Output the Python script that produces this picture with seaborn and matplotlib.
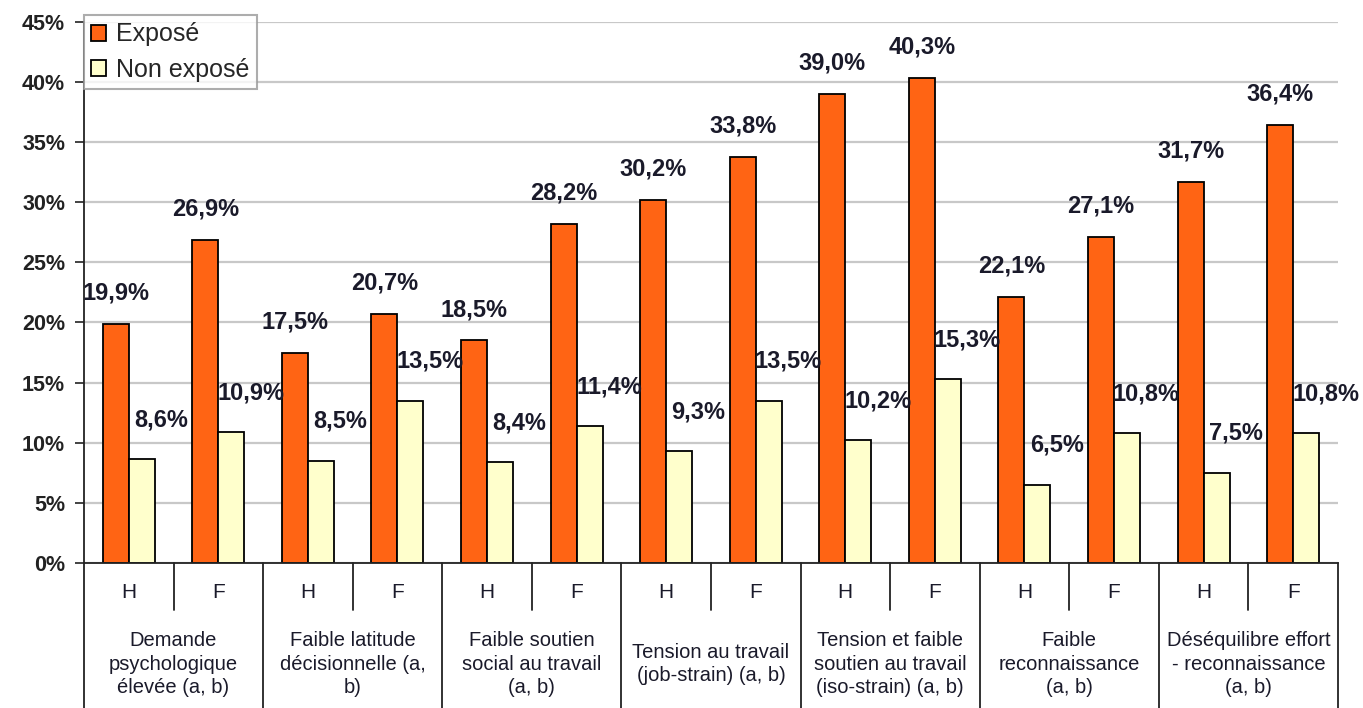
import numpy as np
import pandas as pd
import matplotlib
matplotlib.use('Agg')
import matplotlib.pyplot as plt
import matplotlib.transforms as mtransforms
import seaborn as sns

# data
categories = ['Demande\npsychologique\nélevée (a, b)',
              'Faible latitude\ndécisionnelle (a,\nb)',
              'Faible soutien\nsocial au travail\n(a, b)',
              'Tension au travail\n(job-strain) (a, b)',
              'Tension et faible\nsoutien au travail\n(iso-strain) (a, b)',
              'Faible\nreconnaissance\n(a, b)',
              'Déséquilibre effort\n- reconnaissance\n(a, b)']
sexes = ['H', 'F']
expose = [19.9, 26.9, 17.5, 20.7, 18.5, 28.2, 30.2, 33.8, 39.0, 40.3, 22.1, 27.1, 31.7, 36.4]
non_expose = [8.6, 10.9, 8.5, 13.5, 8.4, 11.4, 9.3, 13.5, 10.2, 15.3, 6.5, 10.8, 7.5, 10.8]
series = ['Exposé', 'Non exposé']
colors = ['#FF6414', '#FFFFCC']

slots = [f'{i}{s}' for i in range(len(categories)) for s in sexes]
df = pd.DataFrame({
    'slot': slots * 2,
    'valeur': expose + non_expose,
    'statut': [series[0]] * len(slots) + [series[1]] * len(slots),
})

sns.set_style('white')
plt.rcParams['font.family'] = ['Liberation Sans', 'DejaVu Sans']

fig = plt.figure(figsize=(13.63, 7.08), dpi=100)
ax = fig.add_axes([0.0616, 0.205, 0.92, 0.764])

sns.barplot(data=df, x='slot', y='valeur', hue='statut', order=slots,
            hue_order=series, palette=colors, saturation=1, edgecolor='black',
            linewidth=1.3, width=0.58, gap=0, ax=ax, legend=True)

ax.set_ylim(0, 45)
ax.set_xlim(-0.5, len(slots) - 0.5)
ax.set_yticks(np.arange(0, 46, 5))
ax.set_yticklabels([f'{v}%' for v in range(0, 46, 5)], fontsize=15.5,
                   fontweight='bold', color='#222222')
ax.yaxis.grid(True, color='#C8C8C8', linewidth=1.6)
ax.set_axisbelow(True)
ax.tick_params(axis='y', left=True, length=6.5, width=1.2, color='#222222', pad=7)
ax.set_xticks([])
ax.set_xlabel('')
ax.set_ylabel('')
for side in ['top', 'right']:
    ax.spines[side].set_visible(False)
for side in ['left', 'bottom']:
    ax.spines[side].set_color('#222222')
    ax.spines[side].set_linewidth(1.3)

# value labels: Exposé centred above, Non exposé shifted to the right
offsets = [(0, 14), (14, 20)]
for cont, off in zip(ax.containers, offsets):
    for bar in cont:
        h = bar.get_height()
        ax.annotate(f'{h:.1f}%'.replace('.', ','),
                    (bar.get_x() + bar.get_width() / 2, h),
                    xytext=off, textcoords='offset points',
                    ha='center', va='bottom', fontsize=17, fontweight='bold',
                    color='#1a1a2a')

# two-level x axis
trans = mtransforms.blended_transform_factory(ax.transData, ax.transAxes)
for i, s in enumerate(slots):
    ax.text(i, -0.054, s[-1], transform=trans, ha='center', va='center',
            fontsize=15, color='#1a1a2a')
for i in range(len(categories)):
    ax.plot([2 * i + 0.5] * 2, [0, -0.087], transform=trans, color='#222222',
            lw=1.3, clip_on=False)
    ax.text(2 * i + 0.5, -0.187, categories[i], transform=trans, ha='center',
            va='center', fontsize=14.5, linespacing=1.3, color='#1a1a2a')
for i in range(len(categories) + 1):
    ax.plot([2 * i - 0.5] * 2, [0, -0.3], transform=trans, color='#222222',
            lw=1.3, clip_on=False)

leg = ax.legend(loc='upper left', bbox_to_anchor=(0, 1.013), fontsize=18,
                frameon=True, fancybox=False, edgecolor='#999999',
                handlelength=0.6, handleheight=0.6, handletextpad=0.4,
                borderpad=0.3, labelspacing=0.45, borderaxespad=0)
leg.get_frame().set_linewidth(1.5)

fig.savefig('out.png', dpi=100)
